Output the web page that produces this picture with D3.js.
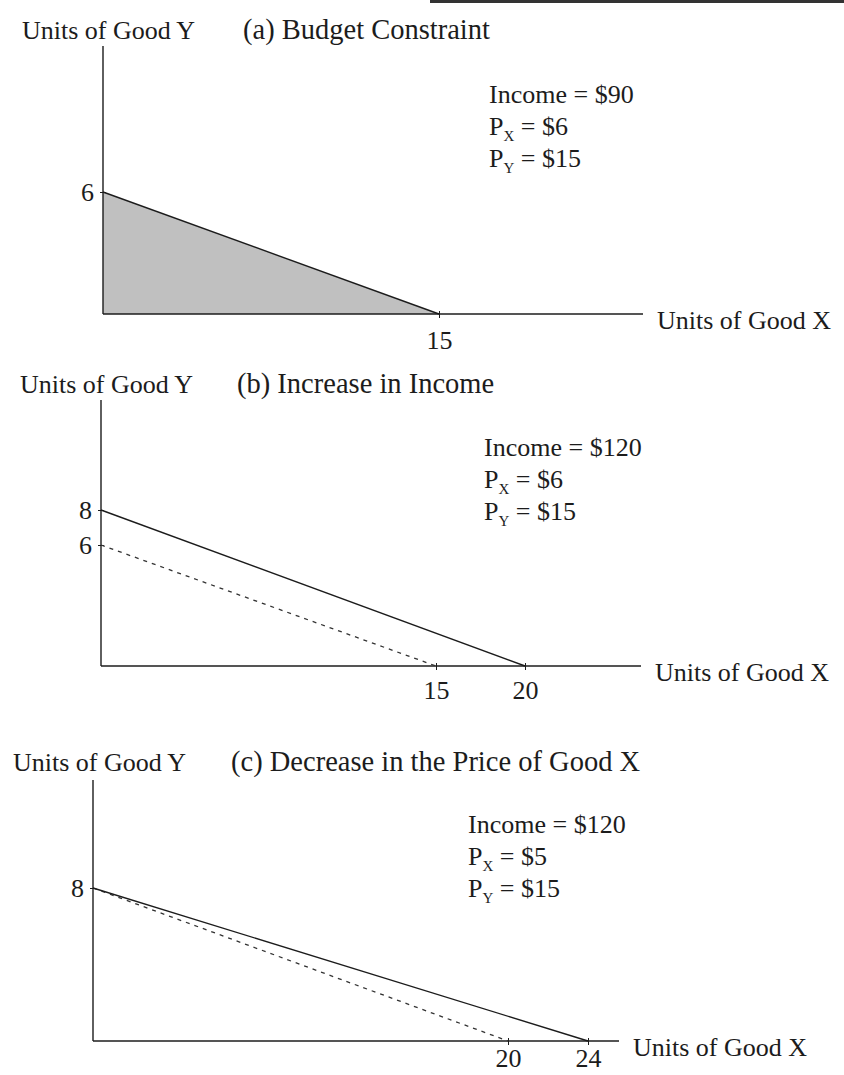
<!DOCTYPE html>
<html>
<head>
<meta charset="utf-8">
<script src="https://cdn.jsdelivr.net/npm/d3@7"></script>
<style>
  html, body { margin: 0; padding: 0; background: #fff; }
  svg text { font-family: "Liberation Serif", "DejaVu Serif", serif; fill: #1c1c1c; }
</style>
</head>
<body>
<svg id="chart" width="844" height="1075"></svg>
<script>
// ---- data -------------------------------------------------------------
const panelTitles = ["(a) Budget Constraint", "(b) Increase in Income", "(c) Decrease in the Price of Good X"];
const incomes = [90, 120, 120];
const pricesX = [6, 6, 5];
const pricesY = [15, 15, 15];
// index of the earlier budget line drawn dashed in each panel (null = none)
const previousPanel = [null, 0, 1];
const xTickValues = [[15], [15, 20], [20, 24]];
const yTickValues = [[6], [6, 8], [8]];
const axisTitleY = "Units of Good Y";
const axisTitleX = "Units of Good X";

// ---- layout -----------------------------------------------------------
const FONT = 26;
const TITLE_FONT = 28.5;
const INK = "#1c1c1c";
const panels = [
  { labelX: 22, titleX: 243, titleBase: 39, axisTop: 46, x0: 103, xPix: [439], xEnd: 643, y0: 314, yPix: [192], infoX: 489, infoBase: 103, tickPad: 14 },
  { labelX: 20, titleX: 237, titleBase: 393, axisTop: 400, x0: 101, xPix: [436, 525], xEnd: 641, y0: 666, yPix: [545, 510], infoX: 484, infoBase: 456, tickPad: 12 },
  { labelX: 13, titleX: 231, titleBase: 771, axisTop: 780, x0: 93, xPix: [508, 588], xEnd: 619, y0: 1041, yPix: [888], infoX: 468, infoBase: 833, tickPad: 5 }
];

const svg = d3.select("#chart");

// thin rule along the top edge of the page
svg.append("line").attr("x1", 430).attr("x2", 844).attr("y1", 1.5).attr("y2", 1.5)
  .attr("stroke", "#333").attr("stroke-width", 3);

// budget line intercepts: income / price
const xInt = i => incomes[i] / pricesX[i];
const yInt = i => incomes[i] / pricesY[i];

panels.forEach((p, i) => {
  const g = svg.append("g");

  const x = d3.scaleLinear().domain([0, ...xTickValues[i]]).range([p.x0, ...p.xPix]);
  const y = d3.scaleLinear().domain([0, ...yTickValues[i]]).range([p.y0, ...p.yPix]);

  // budget set shading in the first panel
  if (i === 0) {
    const area = d3.area().x(d => x(d[0])).y0(y(0)).y1(d => y(d[1]));
    g.append("path")
      .datum([[0, yInt(i)], [xInt(i), 0]])
      .attr("d", area)
      .attr("fill", "#c0c0c0");
  }

  // axes
  const xAxis = d3.axisBottom(x).tickValues(xTickValues[i]).tickFormat(d3.format("d"))
    .tickSize(3).tickSizeOuter(0).tickPadding(p.tickPad);
  const gx = g.append("g").attr("transform", `translate(0,${y(0)})`).call(xAxis);
  gx.select(".domain").remove();
  gx.append("line").attr("x1", x(0)).attr("x2", p.xEnd).attr("stroke", INK).attr("stroke-width", 1.4);
  gx.selectAll(".tick line").attr("y1", -3).attr("y2", 4).attr("stroke", INK);
  gx.selectAll(".tick text").attr("font-size", FONT).attr("fill", INK).attr("font-family", null);

  const yAxis = d3.axisLeft(y).tickValues(yTickValues[i]).tickFormat(d3.format("d"))
    .tickSize(3).tickSizeOuter(0).tickPadding(6);
  const gy = g.append("g").attr("transform", `translate(${x(0)},0)`).call(yAxis);
  gy.select(".domain").remove();
  gy.append("line").attr("y1", p.axisTop).attr("y2", y(0)).attr("stroke", INK).attr("stroke-width", 1.4);
  gy.selectAll(".tick line").attr("x1", -3).attr("x2", 3).attr("stroke", INK);
  gy.selectAll(".tick text").attr("font-size", FONT).attr("fill", INK).attr("font-family", null);

  const line = d3.line().x(d => x(d[0])).y(d => y(d[1]));

  // earlier budget line, dashed
  const prev = previousPanel[i];
  if (prev !== null) {
    g.append("path")
      .datum([[0, yInt(prev)], [xInt(prev), 0]])
      .attr("d", line)
      .attr("fill", "none")
      .attr("stroke", "#333")
      .attr("stroke-width", 1.3)
      .attr("stroke-dasharray", "4,5");
  }

  // current budget line
  g.append("path")
    .datum([[0, yInt(i)], [xInt(i), 0]])
    .attr("d", line)
    .attr("fill", "none")
    .attr("stroke", INK)
    .attr("stroke-width", 1.4);

  // axis titles and panel title
  g.append("text").attr("x", p.labelX).attr("y", p.titleBase).attr("font-size", FONT).text(axisTitleY);
  g.append("text").attr("x", p.titleX).attr("y", p.titleBase).attr("font-size", TITLE_FONT).text(panelTitles[i]);
  g.append("text").attr("x", p.xEnd + 14).attr("y", y(0) + 15).attr("font-size", FONT).text(axisTitleX);

  // income and prices
  const info = g.append("g").attr("font-size", FONT);
  info.append("text").attr("x", p.infoX).attr("y", p.infoBase).text(`Income = $${incomes[i]}`);
  const px = info.append("text").attr("x", p.infoX).attr("y", p.infoBase + 32);
  px.append("tspan").text("P");
  px.append("tspan").attr("font-size", 15).attr("dy", 6).text("X");
  px.append("tspan").attr("dy", -6).text(` = $${pricesX[i]}`);
  const py = info.append("text").attr("x", p.infoX).attr("y", p.infoBase + 64);
  py.append("tspan").text("P");
  py.append("tspan").attr("font-size", 15).attr("dy", 6).text("Y");
  py.append("tspan").attr("dy", -6).text(` = $${pricesY[i]}`);
});
</script>
</body>
</html>
